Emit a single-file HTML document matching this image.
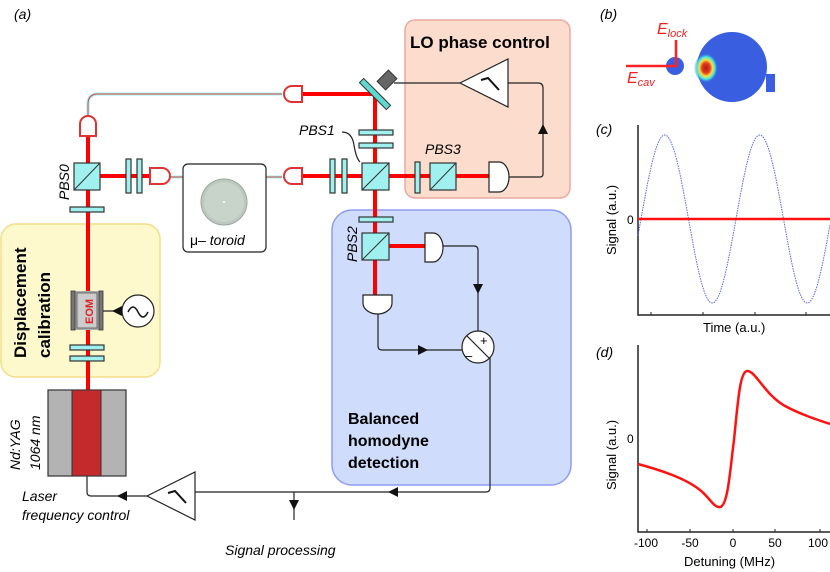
<!DOCTYPE html>
<html><head><meta charset="utf-8"><style>
body{margin:0;background:#fff;}
svg{display:block;font-family:"Liberation Sans",sans-serif;}
.wp{fill:#9ff0ee;stroke:#333;stroke-width:1.2}
.pbs{fill:#9ff0ee;stroke:#333;stroke-width:1.2}
.w{fill:none;stroke:#222;stroke-width:1.2}
.beam{stroke:#f00;stroke-width:4;fill:none}
.it{font-style:italic;font-size:14px}
</style></head><body>
<svg width="830" height="572" viewBox="0 0 830 572">
<defs>
<radialGradient id="hs" cx="0.5" cy="0.5" r="0.5">
<stop offset="0" stop-color="#b01818"/><stop offset="0.35" stop-color="#e84020"/><stop offset="0.55" stop-color="#f8e040"/><stop offset="0.75" stop-color="#40e8e0"/><stop offset="1" stop-color="#3a5ee0" stop-opacity="0"/>
</radialGradient>
</defs>
<!-- boxes -->
<rect x="405" y="20" width="165" height="178" rx="10" fill="#fbdccd" stroke="#eba9a2" stroke-width="1.5"/>
<rect x="332" y="210" width="239" height="275" rx="20" fill="#cfdcfb" stroke="#8f9cf2" stroke-width="1.5"/>
<rect x="1" y="224" width="159" height="153" rx="15" fill="#fdf9cd" stroke="#f5dd8a" stroke-width="1.5"/>
<text x="14" y="19" class="it" font-size="15">(a)</text>
<text x="410" y="48" font-weight="bold" font-size="17">LO phase control</text>
<text x="348" y="424" font-weight="bold" font-size="16">Balanced</text>
<text x="348" y="446" font-weight="bold" font-size="16">homodyne</text>
<text x="348" y="468" font-weight="bold" font-size="16">detection</text>
<text transform="translate(26,358) rotate(-90)" font-weight="bold" font-size="17">Displacement</text>
<text transform="translate(50,358) rotate(-90)" font-weight="bold" font-size="17">calibration</text>

<!-- fibers -->
<path d="M88,118 L88,104 Q88,94 98,94 L282,94" fill="none" stroke="#9ff0ee" stroke-width="3"/>
<path d="M88,118 L88,104 Q88,94 98,94 L282,94" fill="none" stroke="#d44" stroke-width="1"/>
<line x1="170" y1="177" x2="282" y2="177" stroke="#9ff0ee" stroke-width="3"/>
<line x1="170" y1="177" x2="282" y2="177" stroke="#d44" stroke-width="1"/>
<!-- beams -->
<path class="beam" d="M88,130 L88,392"/>
<path class="beam" d="M100,176 L152,176"/>
<path class="beam" d="M300,94 L375,94 L375,298"/>
<path class="beam" d="M300,176 L492,176"/>
<path class="beam" d="M375,246 L428,246"/>
<!-- couplers -->
<path d="M80,136 L80,124 A8,8 0 0 1 96,124 L96,136 Z" fill="#fff" stroke="#d33" stroke-width="2"/>
<path d="M302,86 L292,86 A8,8 0 0 0 292,102 L302,102 Z" fill="#fff" stroke="#d33" stroke-width="2"/>
<path d="M150,168 L162,168 A8,8 0 0 1 162,184 L150,184 Z" fill="#fff" stroke="#d33" stroke-width="2"/>
<path d="M302,168 L292,168 A8,8 0 0 0 292,184 L302,184 Z" fill="#fff" stroke="#d33" stroke-width="2"/>
<!-- toroid -->
<rect x="183" y="164" width="83" height="88" rx="5" fill="#fff" stroke="#222" stroke-width="1.2"/>
<circle cx="224" cy="202" r="23" fill="#bcc9bf" stroke="#9aa8a0"/>
<circle cx="224" cy="202" r="20" fill="#c8d3c9"/>
<circle cx="224" cy="202" r="1" fill="#fff"/>
<text x="190" y="245" font-size="14">μ– <tspan font-style="italic">toroid</tspan></text>
<!-- PBS0 -->
<rect class="pbs" x="74" y="163" width="26" height="27"/><line x1="74" y1="190" x2="100" y2="163" stroke="#333"/>
<rect class="wp" x="70" y="207" width="34" height="5"/>
<text transform="translate(69,200) rotate(-90)" class="it">PBS0</text>
<rect class="wp" x="126" y="159" width="5" height="34"/><rect class="wp" x="137" y="159" width="5" height="34"/>
<rect class="wp" x="330" y="159" width="5" height="34"/><rect class="wp" x="342" y="159" width="5" height="34"/>
<!-- PBS1 -->
<rect class="wp" x="359" y="130" width="34" height="5"/><rect class="wp" x="359" y="143" width="34" height="5"/>
<rect class="pbs" x="362" y="163" width="27" height="27"/><line x1="362" y1="190" x2="389" y2="163" stroke="#333"/>
<text x="299" y="135" class="it">PBS1</text>
<path d="M342,132 Q352,132 354,145 Q356,158 360,162" class="w" stroke-width="1"/>
<!-- mirror -->
<g transform="translate(375,94) rotate(45)"><rect x="-19" y="-3" width="38" height="6" fill="#5ed9cf" stroke="#333"/></g>
<g transform="translate(387,80) rotate(-45)"><rect x="-8" y="-6" width="16" height="12" fill="#666" stroke="#333"/></g>
<!-- PBS3 -->
<rect class="wp" x="415" y="162" width="5" height="31"/>
<rect class="pbs" x="430" y="163" width="26" height="27"/><line x1="430" y1="190" x2="456" y2="163" stroke="#333"/>
<text x="425" y="154" class="it">PBS3</text>
<path d="M489,162 L499,162 A10,15 0 0 1 499,192 L489,192 Z" fill="#fff" stroke="#222" stroke-width="1.2"/>
<!-- LO amplifier -->
<path d="M509,177 L540,177 Q543,177 543,174 L543,88 Q543,83 538,83 L508,83" class="w"/>
<path d="M543,124 l-5,10 h10 Z" fill="#111"/>
<polygon points="460,83 508,59 508,107" fill="#fff" stroke="#222" stroke-width="1.2"/>
<path d="M481,80 L488,78 L499,90" fill="none" stroke="#111" stroke-width="2"/>
<line x1="394" y1="83" x2="460" y2="83" class="w"/>
<!-- PBS2 -->
<rect class="wp" x="359" y="217" width="34" height="5"/>
<rect class="pbs" x="362" y="233" width="27" height="27"/><line x1="362" y1="260" x2="389" y2="233" stroke="#333"/>
<text transform="translate(357,262) rotate(-90)" class="it">PBS2</text>
<path d="M425,233 L433,233 A10,14.5 0 0 1 433,262 L425,262 Z" fill="#fff" stroke="#222" stroke-width="1.2"/>
<path d="M363,295 L392,295 L392,303 A14.5,11 0 0 1 363,303 Z" fill="#fff" stroke="#222" stroke-width="1.2"/>
<path d="M443,246 L474,246 Q478,246 478,250 L478,331" class="w"/>
<path d="M473,284 h10 l-5,10 Z" fill="#111"/>
<path d="M378,314 L378,346 Q378,350 382,350 L462,350" class="w"/>
<path d="M418,345 v10 l10,-5 Z" fill="#111"/>
<circle cx="478" cy="347" r="16" fill="#fff" stroke="#222" stroke-width="1.2"/>
<line x1="467" y1="336" x2="489" y2="358" stroke="#222" stroke-width="1.2"/>
<text x="480" y="345" font-size="13">+</text><text x="465" y="360" font-size="13">–</text>
<path d="M490,357 L490,488 Q490,492 486,492 L195,492" class="w"/>
<path d="M398,487 v10 l-10,-5 Z" fill="#111"/>
<line x1="294" y1="492" x2="294" y2="520" class="w"/>
<path d="M289,500 h10 l-5,10 Z" fill="#111"/>
<text x="225" y="555" class="it">Signal processing</text>
<!-- laser amp -->
<polygon points="147,496 195,472 195,520" fill="#fff" stroke="#222" stroke-width="1.2"/>
<path d="M168,493 L175,491 L186,503" fill="none" stroke="#111" stroke-width="2"/>
<path d="M147,496 L91,496 Q87,496 87,492 L87,476" class="w"/>
<path d="M127,491 v10 l-10,-5 Z" fill="#111"/>
<text x="22" y="501" class="it">Laser</text>
<text x="22" y="520" class="it">frequency control</text>
<!-- laser -->
<rect x="48" y="390" width="78" height="86" fill="#b3b3b3" stroke="#333" stroke-width="1.2"/>
<rect x="72" y="390" width="29" height="86" fill="#c4292b" stroke="#333" stroke-width="1"/>
<text transform="translate(20,470) rotate(-90)" class="it">Nd:YAG</text>
<text transform="translate(40,470) rotate(-90)" class="it">1064 nm</text>
<!-- EOM -->
<rect x="71" y="291" width="32" height="39" fill="#aaa"/>
<rect x="71" y="291" width="4" height="39" fill="#777" stroke="#333" stroke-width="0.8"/>
<rect x="99" y="291" width="4" height="39" fill="#777" stroke="#333" stroke-width="0.8"/>
<rect x="77" y="293" width="20" height="35" fill="#ccc" stroke="#555" stroke-width="0.8"/>
<text transform="translate(93,324) rotate(-90)" font-weight="bold" font-size="11" fill="#d22">EOM</text>
<circle cx="138" cy="311" r="16" fill="#fff" stroke="#222" stroke-width="1.2"/>
<path d="M128,312 q5,-10 10,0 q5,10 10,0" fill="none" stroke="#111" stroke-width="1.5"/>
<line x1="103" y1="311" x2="122" y2="311" class="w"/>
<path d="M122,306 v10 l-10,-5 Z" fill="#111"/>
<rect class="wp" x="70" y="345" width="34" height="5"/><rect class="wp" x="70" y="356" width="34" height="5"/>

<!-- (b) -->
<text x="600" y="19" class="it" font-size="15">(b)</text>
<circle cx="732" cy="67" r="35" fill="#3a5ee0"/>
<rect x="766" y="74" width="9" height="18" fill="#3a5ee0"/>
<ellipse cx="706" cy="68" rx="12" ry="15" fill="url(#hs)"/>
<circle cx="675" cy="66" r="9" fill="#3a5ee0"/>
<path d="M626,66 L676,66 L676,40" fill="none" stroke="#f22" stroke-width="2.5"/>
<text x="657" y="34" fill="#e22" font-style="italic" font-size="16">E<tspan font-size="11" dy="3">lock</tspan></text>
<text x="627" y="83" fill="#e22" font-style="italic" font-size="16">E<tspan font-size="11" dy="3">cav</tspan></text>

<!-- (c) -->
<text x="596" y="134" class="it" font-size="15">(c)</text>
<path d="M638,125 L638,315 L830,315" fill="none" stroke="#222" stroke-width="1.5"/>
<path d="M651,315 v-3 M703,315 v-3 M755,315 v-3 M806,315 v-3" stroke="#222"/>
<text x="627" y="224" font-size="12">0</text>
<text transform="translate(616,255) rotate(-90)" font-size="13">Signal (a.u.)</text>
<text x="703" y="332" font-size="13">Time (a.u.)</text>
<polyline id="sine" fill="none" stroke="#5566ee" stroke-width="1" stroke-dasharray="1.5,1" points=""/>
<path d="M638,219 L830,219" stroke="#f11" stroke-width="2.5"/>
<!-- (d) -->
<text x="596" y="357" class="it" font-size="15">(d)</text>
<path d="M638,345 L638,532 L830,532" fill="none" stroke="#222" stroke-width="1.5"/>
<path d="M647,532 v-3 M690,532 v-3 M733,532 v-3 M775,532 v-3 M820,532 v-3" stroke="#222"/>
<text x="627" y="443" font-size="12">0</text>
<text transform="translate(616,490) rotate(-90)" font-size="13">Signal (a.u.)</text>
<g font-size="12" text-anchor="middle"><text x="646" y="547">-100</text><text x="690" y="547">-50</text><text x="733" y="547">0</text><text x="775" y="547">50</text><text x="818" y="547">100</text></g>
<text x="684" y="566" font-size="13">Detuning (MHz)</text>
<path d="M638,464 C660,470 685,478 700,490 C710,498 714,508 720,507 C728,506 730,470 734,440 C738,400 740,372 747,371 C755,370 765,395 785,406 C800,414 815,419 830,424" fill="none" stroke="#f11" stroke-width="2.5"/>
</svg>
<script>
var p=[];for(var x=638;x<=830;x+=1){var y=219-84*Math.sin(2*Math.PI*(x-641)/95);p.push(x+","+y.toFixed(1));}
document.getElementById("sine").setAttribute("points",p.join(" "));
</script>
</body></html>
